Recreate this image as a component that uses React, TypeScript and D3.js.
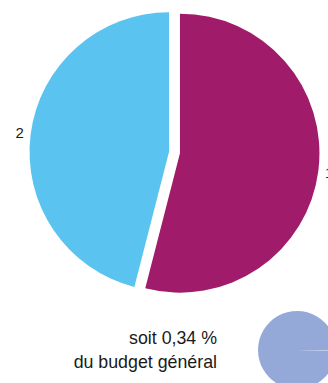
import React from "react";
import * as d3 from "d3";

const categories = ["1", "2"];
const values = [54, 46];
const colors = ["#a01b69", "#5ac3ef"];

const budgetParts = [0.34, 99.66];
const budgetColors = ["#c7d1ee", "#95a9d9"];

const textLines = ["soit 0,34 %", "du budget général"];

export default function App() {
  const W = 328, H = 383;
  const cx = 174.5, cy = 152.5, R = 139.5, explode = 5.5, labelR = 156;
  const pie = d3.pie<number>().sort(null).value((d) => d);
  const arcs = pie(values);
  const arc = d3.arc<d3.PieArcDatum<number>>().innerRadius(0).outerRadius(R);

  const scx = 297, scy = 350, sR = 39;
  const sPie = d3.pie<number>().sort(null).value((d) => d).startAngle(Math.PI / 2).endAngle(Math.PI / 2 + 2 * Math.PI);
  const sArcs = sPie(budgetParts);
  const sArc = d3.arc<d3.PieArcDatum<number>>().innerRadius(0).outerRadius(sR);

  return (
    <svg width={W} height={H} style={{ position: "absolute", left: 0, top: 0, fontFamily: "'Liberation Sans', Arial, sans-serif" }}>
      <g transform={`translate(${cx},${cy})`}>
        {arcs.map((a, i) => {
          const mid = (a.startAngle + a.endAngle) / 2;
          const dx = Math.sin(mid) * explode;
          const dy = -Math.cos(mid) * explode;
          const lx = Math.sin(mid) * labelR;
          const ly = -Math.cos(mid) * labelR;
          return (
            <g key={i}>
              <path d={arc(a) || ""} fill={colors[i]} transform={`translate(${dx},${dy})`} />
              <text x={lx} y={ly} textAnchor="middle" dominantBaseline="central" fontSize={15} fill="#1a1a1a">
                {categories[i]}
              </text>
            </g>
          );
        })}
      </g>
      <g transform={`translate(${scx},${scy})`}>
        {sArcs.map((a, i) => (
          <path key={i} d={sArc(a) || ""} fill={budgetColors[i]} />
        ))}
      </g>
      {textLines.map((t, i) => (
        <text key={i} x={217} y={344 + i * 24} textAnchor="end" fontSize={17.8} fill="#1a1a1a">
          {t}
        </text>
      ))}
    </svg>
  );
}
